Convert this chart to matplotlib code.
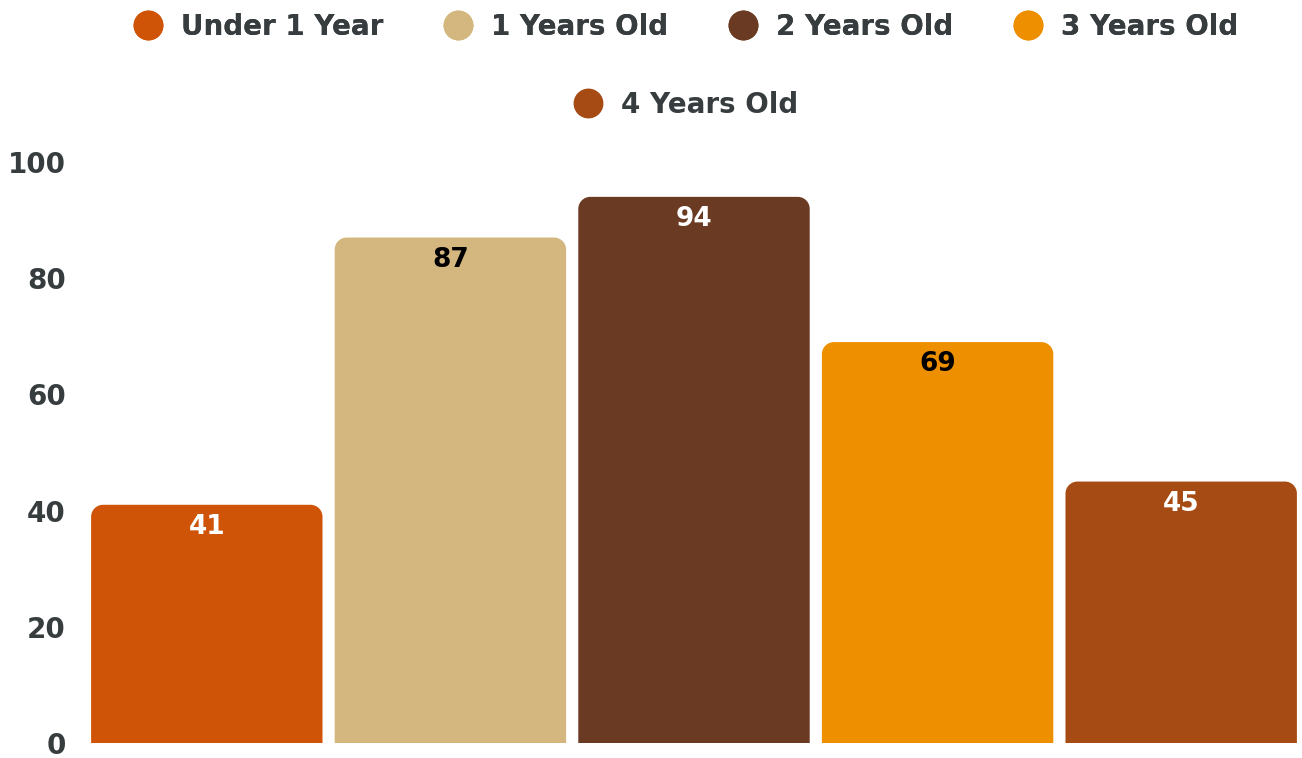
import numpy as np
import matplotlib.pyplot as plt
from matplotlib.path import Path
from matplotlib.patches import PathPatch
from matplotlib.lines import Line2D

# ── Data ──────────────────────────────────────────────────────────────────────
categories = ["Under 1 Year", "1 Years Old", "2 Years Old", "3 Years Old", "4 Years Old"]
values     = [41, 87, 94, 69, 45]
colors     = ["#CF5408", "#D4B77E", "#6B3A22", "#EE8F00", "#A64B13"]
label_cols = ["white", "black", "white", "black", "white"]
yticks     = [0, 20, 40, 60, 80, 100]

plt.rcParams["font.family"] = ["DejaVu Sans"]
TXT = "#373d3f"

W, H = 1302, 758
fig = plt.figure(figsize=(W / 100, H / 100), dpi=100)
ax = fig.add_axes([85 / W, 15 / H, (1303 - 85) / W, 581 / H])

x = np.arange(len(categories))
bars = ax.bar(x, values, width=0.95, color=colors)
ax.set_xlim(-0.5, len(categories) - 0.5)
ax.set_ylim(0, 100)

# rounded top corners: convert pixel radius into data units
r_px = 12
px_x = (1303 - 85) / len(categories)
px_y = 581 / 100
k = 0.5523
for b in bars:
    x0, w, h = b.get_x(), b.get_width(), b.get_height()
    rx, ry = r_px / px_x, r_px / px_y
    x1 = x0 + w
    verts = [(x0, 0), (x0, h - ry),
             (x0, h - ry + k * ry), (x0 + rx - k * rx, h), (x0 + rx, h),
             (x1 - rx, h),
             (x1 - rx + k * rx, h), (x1, h - ry + k * ry), (x1, h - ry),
             (x1, 0), (x0, 0)]
    codes = [Path.MOVETO, Path.LINETO,
             Path.CURVE4, Path.CURVE4, Path.CURVE4,
             Path.LINETO,
             Path.CURVE4, Path.CURVE4, Path.CURVE4,
             Path.LINETO, Path.CLOSEPOLY]
    ax.add_patch(PathPatch(Path(verts, codes), facecolor=b.get_facecolor(),
                           edgecolor="none"))
    b.set_visible(False)

# data labels inside the top of each bar
for xi, v, c in zip(x, values, label_cols):
    ax.annotate(str(v), (xi, v), xytext=(0, -22), textcoords="offset pixels",
                ha="center", va="center", fontsize=19, fontweight="bold", color=c)

ax.set_yticks(yticks)
ax.set_yticklabels([str(t) for t in yticks], fontsize=20, fontweight="bold", color=TXT)
ax.tick_params(axis="y", length=0, pad=14)
ax.set_xticks([])
for s in ax.spines.values():
    s.set_visible(False)

# legend in two centred rows
handles = [Line2D([], [], marker="o", ls="none", markersize=21.5,
                  markerfacecolor=c, markeredgecolor="none") for c in colors]
leg_kw = dict(frameon=False, prop=dict(size=20, weight="bold"), labelcolor=TXT,
              handletextpad=0.68, columnspacing=2.2, handlelength=1.0, loc="center")
leg1 = fig.legend(handles[:4], categories[:4], ncol=4,
                  bbox_to_anchor=(686 / W, 1 - 27 / H), **leg_kw)
fig.add_artist(leg1)
fig.legend(handles[4:], categories[4:], ncol=1,
           bbox_to_anchor=(686 / W, 1 - 105 / H), **leg_kw)

fig.savefig("out.png", dpi=100)
